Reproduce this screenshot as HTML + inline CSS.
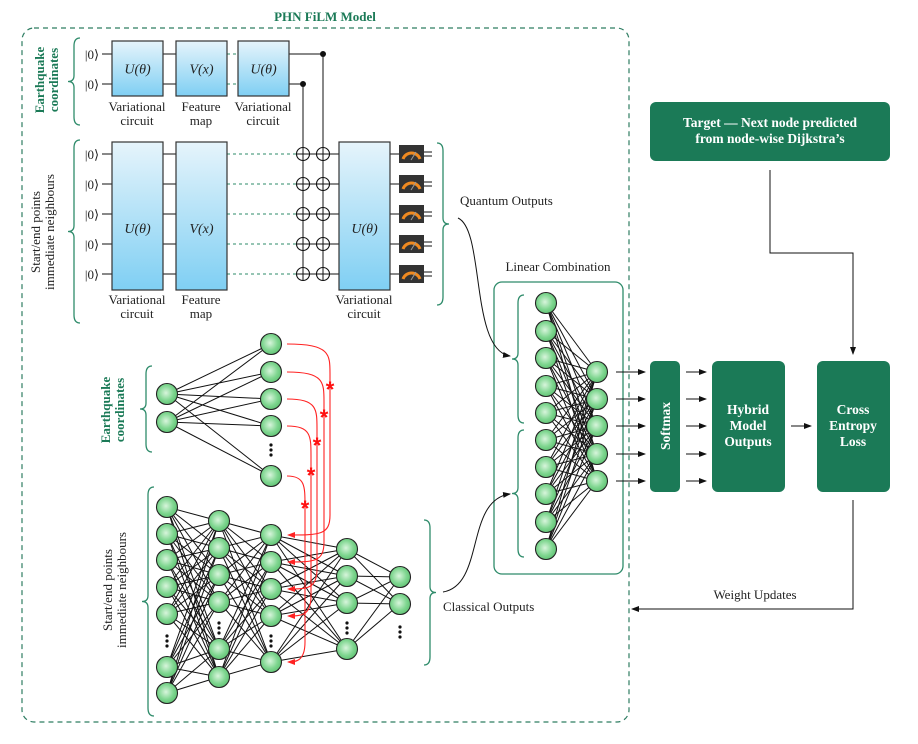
<!DOCTYPE html>
<html><head><meta charset="utf-8"><style>
html,body{margin:0;padding:0;background:#fff;width:918px;height:744px;overflow:hidden}
svg{display:block}
.s{font-family:"Liberation Serif",serif;font-size:13px;fill:#222}
.b{font-family:"Liberation Serif",serif;font-weight:bold;fill:#fff;font-size:13.5px}
.g{font-family:"Liberation Serif",serif;font-weight:bold;fill:#1b7a57;font-size:13px}
.m{font-family:"Liberation Serif",serif;font-style:italic;font-size:14px;fill:#222}
</style></head><body>
<svg id="sv" width="918" height="744" xmlns="http://www.w3.org/2000/svg">
<defs>
<radialGradient id="ng" cx="0.45" cy="0.45" r="0.6"><stop offset="0" stop-color="#d8f5dc"/><stop offset="0.6" stop-color="#7fd690"/><stop offset="1" stop-color="#5cc070"/></radialGradient>
<linearGradient id="bg" x1="0" y1="0" x2="0" y2="1"><stop offset="0" stop-color="#e6f4fb"/><stop offset="1" stop-color="#7fcff3"/></linearGradient>
<marker id="ar" markerWidth="8" markerHeight="8" refX="7" refY="4" orient="auto" markerUnits="userSpaceOnUse"><path d="M0,1 L8,4 L0,7 Z" fill="#111"/></marker>
<marker id="rr" markerWidth="8" markerHeight="8" refX="7" refY="4" orient="auto" markerUnits="userSpaceOnUse"><path d="M0,1 L8,4 L0,7 Z" fill="#f22"/></marker>
</defs>
<g id="lines"></g>
<g id="main"></g>
</svg>
<script>
(function(){
const NS="http://www.w3.org/2000/svg";
const L=document.getElementById('lines'),M=document.getElementById('main');
function el(t,a,p,txt){const e=document.createElementNS(NS,t);for(const k in a)e.setAttribute(k,a[k]);if(txt!==undefined)e.textContent=txt;(p||M).appendChild(e);return e;}
function line(x1,y1,x2,y2,o,p){return el('line',Object.assign({x1:x1,y1:y1,x2:x2,y2:y2,stroke:'#111','stroke-width':1},o||{}),p||L);}
function node(x,y){el('circle',{cx:x,cy:y,r:10.5,fill:'url(#ng)',stroke:'#222','stroke-width':1.1});}
function dots(x,y){for(let i=-1;i<=1;i++)el('circle',{cx:x,cy:y+i*5,r:1.6,fill:'#111'});}
function text(x,y,s,c,extra){return el('text',Object.assign({x:x,y:y,class:c||'s','text-anchor':'middle'},extra||{}),M,s);}
function brace(x,y1,y2,dir){
  const m=(y1+y2)/2,d=6*dir;
  el('path',{d:`M${x+d},${y1} Q${x},${y1} ${x},${y1+8} L${x},${m-6} Q${x},${m} ${x-d},${m} Q${x},${m} ${x},${m+6} L${x},${y2-8} Q${x},${y2} ${x+d},${y2}`,fill:'none',stroke:'#2e8b6a','stroke-width':1.3});
}
el('rect',{x:22,y:28,width:607,height:694,rx:12,fill:'none',stroke:'#2e7d62','stroke-width':1.2,'stroke-dasharray':'5,4'},L);
text(325,21,'PHN FiLM Model','g');
brace(74,38,125,1);
text(0,0,'Earthquake','g',{transform:'translate(44,80) rotate(-90)'});
text(0,0,'coordinates','g',{transform:'translate(58,80) rotate(-90)'});
const topW=[54,84];
topW.forEach(y=>{text(92,y+5,'|0⟩','s');line(102,y,112,y);line(163,y,176,y);line(227,y,238,y,{stroke:'#2e8b6a','stroke-dasharray':'3,3'});});
line(289,54,323,54);line(289,84,303,84);
[[112,41,55,'U(θ)'],[176,41,55,'V(x)'],[238,41,55,'U(θ)']].forEach(b=>{el('rect',{x:b[0],y:b[1],width:51,height:b[2],fill:'url(#bg)',stroke:'#333','stroke-width':1.2});text(b[0]+25.5,b[1]+b[2]/2+5,b[3],'m');});
[[137,'Variational','circuit'],[201,'Feature','map'],[263,'Variational','circuit']].forEach(t=>{text(t[0],111,t[1]);text(t[0],125,t[2]);});
el('circle',{cx:323,cy:54,r:3,fill:'#111'});el('circle',{cx:303,cy:84,r:3,fill:'#111'});
line(303,84,303,280);line(323,54,323,280);
brace(74,140,323,1);
text(0,0,'Start/end points','s',{transform:'translate(40,232) rotate(-90)'});
text(0,0,'immediate neighbours','s',{transform:'translate(54,232) rotate(-90)'});
const bw=[154,184,214,244,274];
bw.forEach(y=>{text(92,y+5,'|0⟩');line(102,y,112,y);line(163,y,176,y);line(227,y,300,y,{stroke:'#2e8b6a','stroke-dasharray':'3,3'});line(300,y,339,y);line(390,y,400,y);
 [303,323].forEach(x=>{el('circle',{cx:x,cy:y,r:6.5,fill:'none',stroke:'#111','stroke-width':1.1});line(x-6.5,y,x+6.5,y,{},M);});
 el('rect',{x:399,y:y-9,width:25,height:18,fill:'#333'});
 el('path',{d:`M403,${y+5} A9,9 0 0 1 420,${y+5}`,fill:'none',stroke:'#f08a20','stroke-width':3});
 line(411,y+6,416,y-2,{stroke:'#999'},M);
 line(424,y-2,432,y-2,{},M);line(424,y+2,432,y+2,{},M);
});
[[112,'U(θ)'],[176,'V(x)'],[339,'U(θ)']].forEach(b=>{el('rect',{x:b[0],y:142,width:51,height:148,fill:'url(#bg)',stroke:'#333','stroke-width':1.2});text(b[0]+25.5,233,b[1],'m');});
[[137,'Variational','circuit'],[201,'Feature','map'],[364,'Variational','circuit']].forEach(t=>{text(t[0],304,t[1]);text(t[0],318,t[2]);});
brace(443,143,305,-1);
text(460,205,'Quantum Outputs','s',{'text-anchor':'start'});
el('path',{d:'M458,218 C485,230 470,350 510,356',fill:'none',stroke:'#111','marker-end':'url(#ar)'});
brace(146,366,452,1);
text(0,0,'Earthquake','g',{transform:'translate(110,410) rotate(-90)'});
text(0,0,'coordinates','g',{transform:'translate(124,410) rotate(-90)'});
const sIn=[394,422],sOut=[344,372,399,426,476];
sIn.forEach(a=>sOut.forEach(b=>line(167,a,271,b)));
brace(148,487,716,1);
text(0,0,'Start/end points','s',{transform:'translate(112,590) rotate(-90)'});
text(0,0,'immediate neighbours','s',{transform:'translate(126,590) rotate(-90)'});
const C=[[167,[507,534,560,587,614,667,693],641],[219,[521,548,575,602,649,677],628],[271,[535,562,589,616,662],641],[347,[549,576,603,649],628],[400,[577,604],632]];
for(let i=0;i<C.length-1;i++)C[i][1].forEach(a=>C[i+1][1].forEach(b=>line(C[i][0],a,C[i+1][0],b)));
brace(430,520,665,-1);
text(443,611,'Classical Outputs','s',{'text-anchor':'start'});
el('path',{d:'M443,592 C485,585 465,500 510,494',fill:'none',stroke:'#111','marker-end':'url(#ar)'});
const vx=[330,324,317,311,305],tgt=[535,562,589,616,662];
sOut.forEach((y,i)=>{const x=vx[i],t=tgt[i];
 el('path',{d:`M287,${y} C${x},${y} ${x},${y+10} ${x},${y+30} L${x},${t-20} C${x},${t} ${x-10},${t} 288,${t}`,fill:'none',stroke:'#f22','stroke-width':1.1,'marker-end':'url(#rr)'},L);
 el('text',{x:x,y:[397,425,453,483,516][i],'text-anchor':'middle','font-family':'Liberation Sans,sans-serif','font-weight':'bold','font-size':'22px',fill:'#f11'},M,'*');
});
el('rect',{x:494,y:282,width:129,height:292,rx:8,fill:'none',stroke:'#2e8b6a','stroke-width':1.3},L);
text(558,271,'Linear Combination');
brace(518,295,423,1);brace(518,430,557,1);
const lA=[303,331,358,386,413,440,467,494,522,549],lB=[372,399,426,454,481];
lA.forEach(a=>lB.forEach(b=>line(546,a,597,b)));
lB.forEach(y=>{el('line',{x1:616,y1:y,x2:645,y2:y,stroke:'#111','marker-end':'url(#ar)'},L);el('line',{x1:686,y1:y,x2:706,y2:y,stroke:'#111','marker-end':'url(#ar)'},L);});
sIn.forEach(y=>node(167,y));sOut.forEach(y=>node(271,y));dots(271,450);
C.forEach(c=>{c[1].forEach(y=>node(c[0],y));dots(c[0],c[2]);});
lA.forEach(y=>node(546,y));lB.forEach(y=>node(597,y));
const G='#1b7a57';
el('rect',{x:650,y:361,width:30,height:131,rx:5,fill:G});
text(0,0,'Softmax','b',{transform:'translate(670,426) rotate(-90)'});
el('rect',{x:712,y:361,width:73,height:131,rx:6,fill:G});
text(748,414,'Hybrid','b');text(748,430,'Model','b');text(748,446,'Outputs','b');
el('rect',{x:817,y:361,width:73,height:131,rx:6,fill:G});
text(853,414,'Cross','b');text(853,430,'Entropy','b');text(853,446,'Loss','b');
el('line',{x1:791,y1:426,x2:811,y2:426,stroke:'#111','marker-end':'url(#ar)'},L);
el('rect',{x:650,y:102,width:240,height:59,rx:6,fill:G});
text(770,127,'Target — Next node predicted','b');text(770,143,'from node-wise Dijkstra’s','b');
el('path',{d:'M770,170 L770,253 L853,253 L853,354',fill:'none',stroke:'#111','marker-end':'url(#ar)'},L);
el('path',{d:'M853,500 L853,609 L632,609',fill:'none',stroke:'#111','marker-end':'url(#ar)'},L);
text(755,599,'Weight Updates');
})();
</script>
</body></html>
